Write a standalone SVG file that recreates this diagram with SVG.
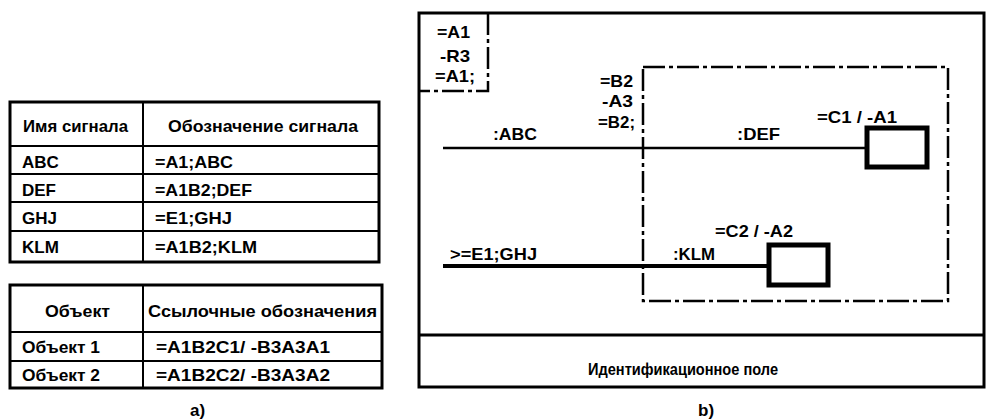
<svg xmlns="http://www.w3.org/2000/svg" width="986" height="420" viewBox="0 0 986 420">
<style>
text{font-family:"Liberation Sans",Arial,sans-serif;font-weight:bold;font-size:17px;fill:#000}
.tb{fill:none;stroke:#000;stroke-width:3}
.ln{stroke:#000;stroke-width:2}
.fr{fill:none;stroke:#000;stroke-width:3}
.dd{fill:none;stroke:#000;stroke-width:2.5;stroke-dasharray:22 4 4 4}
.box{fill:#fff;stroke:#000;stroke-width:5}
</style>
<rect width="986" height="420" fill="#fff"/>
<g id="table1">
<rect class="tb" x="10" y="102" width="369" height="160"/>
<line class="ln" x1="143" y1="102" x2="143" y2="262"/>
<line class="ln" x1="10" y1="146" x2="379" y2="146"/>
<line class="ln" x1="10" y1="174" x2="379" y2="174"/>
<line class="ln" x1="10" y1="202" x2="379" y2="202"/>
<line class="ln" x1="10" y1="231" x2="379" y2="231"/>
<text x="23" y="132" textLength="105" lengthAdjust="spacingAndGlyphs">Имя сигнала</text>
<text x="168" y="132" textLength="190" lengthAdjust="spacingAndGlyphs">Обозначение сигнала</text>
<text x="22" y="168">ABC</text>
<text x="22" y="196">DEF</text>
<text x="22" y="224">GHJ</text>
<text x="22" y="253">KLM</text>
<text x="155" y="168" textLength="78" lengthAdjust="spacingAndGlyphs">=A1;ABC</text>
<text x="155" y="196" textLength="97" lengthAdjust="spacingAndGlyphs">=A1B2;DEF</text>
<text x="155" y="224" textLength="77" lengthAdjust="spacingAndGlyphs">=E1;GHJ</text>
<text x="155" y="253" textLength="102" lengthAdjust="spacingAndGlyphs">=A1B2;KLM</text>
</g>
<g id="table2">
<rect class="tb" x="10" y="285" width="372" height="103"/>
<line class="ln" x1="143" y1="285" x2="143" y2="388"/>
<line class="ln" x1="10" y1="332" x2="382" y2="332"/>
<line class="ln" x1="10" y1="361" x2="382" y2="361"/>
<text x="45" y="317" textLength="65" lengthAdjust="spacingAndGlyphs">Объект</text>
<text x="148" y="317" textLength="229" lengthAdjust="spacingAndGlyphs">Ссылочные обозначения</text>
<text x="22" y="353" textLength="78" lengthAdjust="spacingAndGlyphs">Объект 1</text>
<text x="22" y="381" textLength="78" lengthAdjust="spacingAndGlyphs">Объект 2</text>
<text x="156" y="353" textLength="174" lengthAdjust="spacingAndGlyphs">=A1B2C1/ -B3A3A1</text>
<text x="156" y="381" textLength="174" lengthAdjust="spacingAndGlyphs">=A1B2C2/ -B3A3A2</text>
</g>
<text x="190" y="416">a)</text>
<g id="frame">
<rect class="fr" x="419" y="13" width="565" height="374"/>
<line class="fr" x1="419" y1="335" x2="984" y2="335"/>
<text x="588" y="375" textLength="190" lengthAdjust="spacingAndGlyphs">Идентификационное поле</text>
</g>
<g id="locA1">
<path class="dd" d="M488 13 V91 H419"/>
<text x="437" y="38" textLength="33" lengthAdjust="spacingAndGlyphs">=A1</text>
<text x="440" y="62" textLength="30" lengthAdjust="spacingAndGlyphs">-R3</text>
<text x="435" y="82" textLength="40" lengthAdjust="spacingAndGlyphs">=A1;</text>
</g>
<g id="locB2">
<rect class="dd" x="643" y="67" width="305" height="234"/>
<text x="600" y="87" textLength="33" lengthAdjust="spacingAndGlyphs">=B2</text>
<text x="602" y="107" textLength="31" lengthAdjust="spacingAndGlyphs">-A3</text>
<text x="598" y="128" textLength="37" lengthAdjust="spacingAndGlyphs">=B2;</text>
</g>
<g id="connectors">
<line x1="443" y1="148" x2="866" y2="148" stroke="#000" stroke-width="2.5"/>
<line x1="443" y1="266" x2="768" y2="266" stroke="#000" stroke-width="4"/>
<text x="493" y="140" textLength="44" lengthAdjust="spacingAndGlyphs">:ABC</text>
<text x="737" y="140" textLength="43" lengthAdjust="spacingAndGlyphs">:DEF</text>
<text x="450" y="260" textLength="87" lengthAdjust="spacingAndGlyphs">&gt;=E1;GHJ</text>
<text x="673" y="260" textLength="42" lengthAdjust="spacingAndGlyphs">:KLM</text>
</g>
<g id="C1">
<rect class="box" x="867" y="128" width="60" height="39"/>
<text x="817" y="123" textLength="80" lengthAdjust="spacingAndGlyphs">=C1 / -A1</text>
</g>
<g id="C2">
<rect class="box" x="769" y="245" width="59" height="40"/>
<text x="715" y="237" textLength="78" lengthAdjust="spacingAndGlyphs">=C2 / -A2</text>
</g>
<text x="698" y="416">b)</text>
</svg>
